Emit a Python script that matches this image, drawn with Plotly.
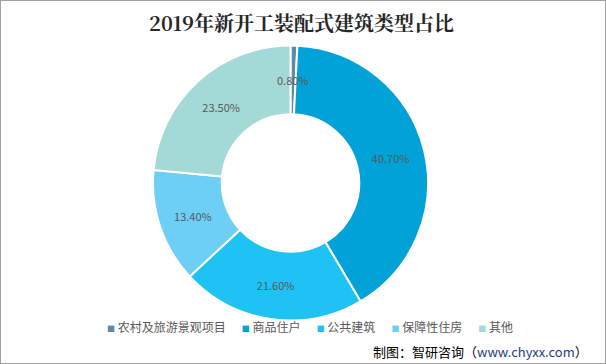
import math
import plotly.graph_objects as go

categories = ["农村及旅游景观项目", "商品住户", "公共建筑", "保障性住房", "其他"]
shares = [0.80, 40.70, 21.60, 13.40, 23.50]
colors = ["#5b8ba5", "#00a2d8", "#1fc3f3", "#6dcff6", "#a3d9d6"]

W, H = 606, 364
cx, cy, r = 290.5, 183, 137.5
hole = 0.5

# slices too thin for plotly's inside text get an annotation at ring middle
small = [v < 2 for v in shares]
templates = ["" if s else "%{value:.2f}%" for s in small]

fig = go.Figure(go.Pie(
    labels=categories,
    values=shares,
    sort=False,
    direction="clockwise",
    rotation=0,
    hole=hole,
    marker=dict(colors=colors, line=dict(color="white", width=2)),
    texttemplate=templates,
    textposition="inside",
    insidetextorientation="horizontal",
    textfont=dict(size=11, color="#595959", family="Noto Sans CJK SC"),
    hoverinfo="label+value",
    showlegend=False,
    domain=dict(x=[(cx - r) / W, (cx + r) / W], y=[(H - cy - r) / H, (H - cy + r) / H]),
))

annotations = []
total = sum(shares)
cum = 0.0
rm = r * (1 + hole) / 2
for v, s in zip(shares, small):
    mid = (cum + v / 2) / total * 2 * math.pi
    cum += v
    if s:
        px = cx + rm * math.sin(mid)
        py = cy - rm * math.cos(mid)
        annotations.append(dict(text=f"{v:.2f}%", x=px / W, y=(H - py) / H, xref="paper", yref="paper",
                                showarrow=False, xanchor="center", yanchor="middle",
                                font=dict(size=11, color="#595959")))

gap = "\u00a0" * 6
legend_text = gap.join(
    f"<span style='color:{c};font-size:8px'>■</span>\u00a0{name}" for name, c in zip(categories, colors)
)

annotations += [
    dict(text="<b>2019年新开工装配式建筑类型占比</b>", x=0.497, y=(H - 22) / H, xref="paper", yref="paper",
         yanchor="middle", showarrow=False,
         font=dict(size=20, color="#262626", family="Noto Serif CJK SC, DejaVu Serif, serif")),
    dict(text=legend_text, x=(104 + 516) / 2 / W, y=(H - 326) / H, xref="paper", yref="paper",
         yanchor="middle", showarrow=False, font=dict(size=12, color="#595959")),
    dict(text="制图：智研咨询（<span style='color:#1f3d7a'>www.chyxx.com</span>）", x=590 / W, y=(H - 351) / H,
         xref="paper", yref="paper", xanchor="right", yanchor="middle", showarrow=False,
         font=dict(size=13, color="#000000")),
]

fig.update_layout(
    width=W, height=H,
    margin=dict(l=0, r=0, t=0, b=0, autoexpand=False),
    paper_bgcolor="white",
    font=dict(family="Noto Sans CJK SC", color="#595959"),
    annotations=annotations,
    shapes=[dict(type="rect", xref="paper", yref="paper", x0=0, x1=1, y0=0, y1=1,
                 line=dict(color="#a0a0a0", width=2))],
)

fig.write_html("out.html", config={"displayModeBar": False},
               post_script="document.body.style.margin='0';")
